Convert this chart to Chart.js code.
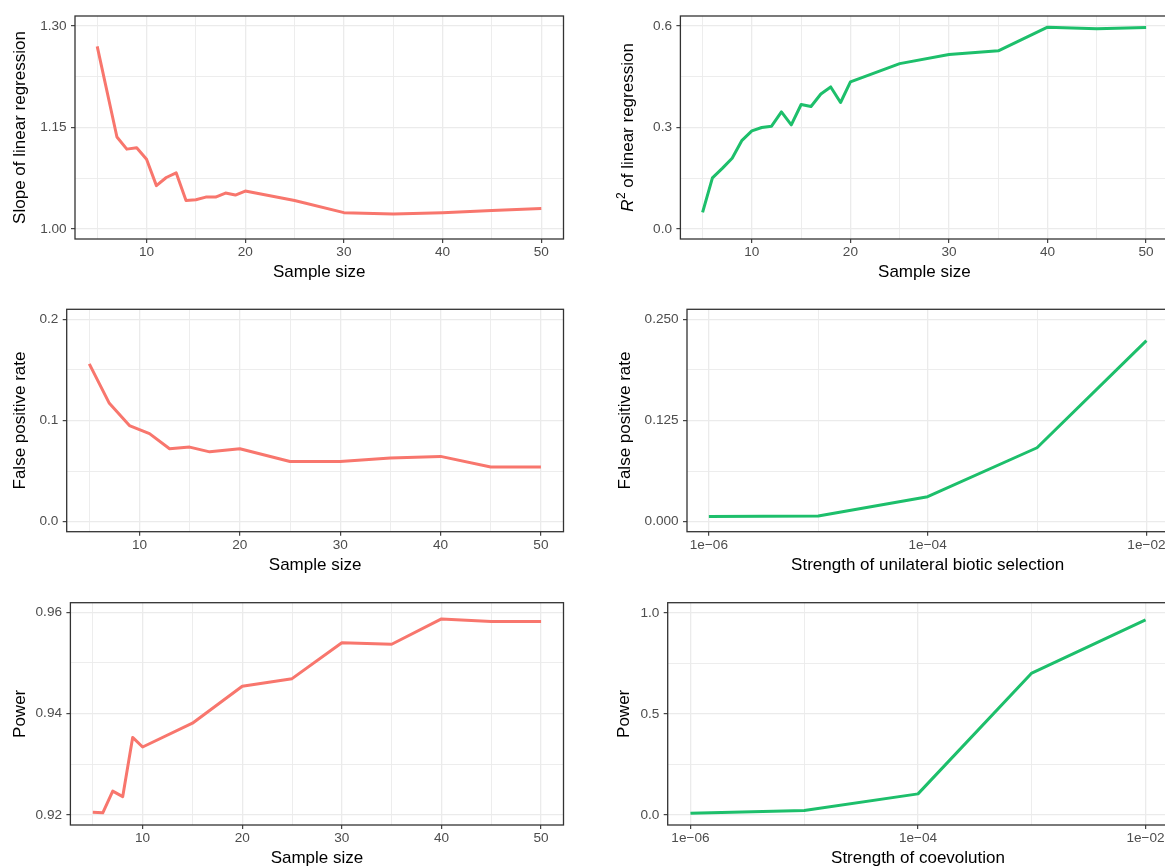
<!DOCTYPE html>
<html>
<head>
<meta charset="utf-8">
<script src="https://cdn.jsdelivr.net/npm/chart.js@4.4.0/dist/chart.umd.min.js"></script>
<style>
  html, body { margin: 0; padding: 0; background: #fff; }
  body { width: 1165px; height: 867px; overflow: hidden; position: relative; }
  canvas { position: absolute; }
</style>
</head>
<body>
<canvas id="slope"></canvas>
<canvas id="r2"></canvas>
<canvas id="fprN"></canvas>
<canvas id="fprSel"></canvas>
<canvas id="powN"></canvas>
<canvas id="powCoev"></canvas>
<script>
// --- data ---
const slopeN = [5, 7, 8, 9, 10, 11, 12, 13, 14, 15, 16, 17, 18, 19, 20, 25, 30, 35, 40, 45, 50];
const slopeVals = [1.270, 1.136, 1.118, 1.120, 1.103, 1.064, 1.076, 1.083, 1.042, 1.043, 1.047, 1.047, 1.053, 1.050, 1.056, 1.042, 1.024, 1.022, 1.024, 1.027, 1.030];

const r2N = [5, 6, 7, 8, 9, 10, 11, 12, 13, 14, 15, 16, 17, 18, 19, 20, 25, 30, 35, 40, 45, 50];
const r2Vals = [0.049, 0.151, 0.179, 0.209, 0.262, 0.290, 0.300, 0.304, 0.346, 0.308, 0.368, 0.362, 0.399, 0.420, 0.374, 0.435, 0.489, 0.516, 0.527, 0.597, 0.592, 0.596];

const fprN = [5, 7, 9, 11, 13, 15, 17, 20, 25, 30, 35, 40, 45, 50];
const fprVals = [0.156, 0.117, 0.095, 0.087, 0.072, 0.0737, 0.069, 0.072, 0.0595, 0.0595, 0.0628, 0.0645, 0.054, 0.054];

const powN = [5, 6, 7, 8, 9, 10, 15, 20, 25, 30, 35, 40, 45, 50];
const powVals = [0.9205, 0.9204, 0.9247, 0.9236, 0.9353, 0.9334, 0.9381, 0.9454, 0.9469, 0.9540, 0.9537, 0.9587, 0.9582, 0.9582];

const strength = [1e-6, 1e-5, 1e-4, 1e-3, 1e-2];
const fprSelVals = [0.0062, 0.007, 0.0308, 0.0913, 0.2237];
const powCoevVals = [0.008, 0.0214, 0.104, 0.702, 0.965];

// --- axis breaks and labels ---
const sizeTicks = [10, 20, 30, 40, 50];
const sizeLabels = ['10', '20', '30', '40', '50'];
const strengthTicks = [1e-6, 1e-4, 1e-2];
const strengthLabels = ['1e\u221206', '1e\u221204', '1e\u221202'];
const slopeTicks = [1.00, 1.15, 1.30];
const slopeLabels = ['1.00', '1.15', '1.30'];
const r2Ticks = [0, 0.3, 0.6];
const r2Labels = ['0.0', '0.3', '0.6'];
const fprTicks = [0, 0.1, 0.2];
const fprLabels = ['0.0', '0.1', '0.2'];
const fprSelTicks = [0, 0.125, 0.25];
const fprSelLabels = ['0.000', '0.125', '0.250'];
const powTicks = [0.92, 0.94, 0.96];
const powLabels = ['0.92', '0.94', '0.96'];
const powCoevTicks = [0, 0.5, 1];
const powCoevLabels = ['0.0', '0.5', '1.0'];

const RED = '#F8766D';
const GREEN = '#1DBF6B';
const FONT = "'Liberation Sans', Arial, sans-serif";

// where each panel sits on the page
const layout = {
  slope:   { x: 0,   y: 0,   w: 580, h: 293, yw: 75,    xh: 54,   top: 16,   right: 16.5, yTitle: 20.4 },
  r2:      { x: 580, y: 0,   w: 600, h: 293, yw: 100.4, xh: 54,   top: 16,   right: 11.7, yTitle: 48.5 },
  fprN:    { x: 0,   y: 293, w: 580, h: 293, yw: 66.7,  xh: 54.3, top: 16.3, right: 16.5, yTitle: 20.4 },
  fprSel:  { x: 580, y: 293, w: 600, h: 293, yw: 107,   xh: 54.3, top: 16.3, right: 11.7, yTitle: 45.5 },
  powN:    { x: 0,   y: 586, w: 580, h: 293, yw: 70.4,  xh: 54,   top: 16.7, right: 16.5, yTitle: 20.4 },
  powCoev: { x: 580, y: 586, w: 600, h: 293, yw: 87.7,  xh: 54,   top: 16.7, right: 11.7, yTitle: 44.8 }
};

function same(a, b) { return Math.abs(a - b) <= Math.abs(a) * 1e-6 + 1e-12; }

// major breaks plus ggplot-style minor breaks half way between
function breaks(majors, labels, min, max, log) {
  const f = log ? Math.log10 : (v => v);
  const g = log ? (v => Math.pow(10, v)) : (v => v);
  const m = majors.map(f);
  const step = m[1] - m[0];
  const minors = [m[0] - step / 2].concat(m.map(v => v + step / 2)).map(g)
    .filter(v => v > min && v < max);
  const values = majors.concat(minors).sort((a, b) => a - b);
  return {
    values,
    isMajor: v => majors.some(mj => same(mj, v)),
    label: v => { const i = majors.findIndex(mj => same(mj, v)); return i >= 0 ? labels[i] : ''; }
  };
}

function gridStyle(b) {
  return {
    color: '#EBEBEB',
    lineWidth: c => (c.tick && b.isMajor(c.tick.value)) ? 1.3 : 0.9,
    drawTicks: true,
    tickLength: 4,
    tickColor: c => (c.tick && b.isMajor(c.tick.value)) ? '#333333' : 'rgba(0,0,0,0)',
    tickWidth: c => (c.tick && b.isMajor(c.tick.value)) ? 1.1 : 0
  };
}

const panelBorder = {
  id: 'panelBorder',
  afterDatasetsDraw(chart) {
    const { ctx, chartArea: a } = chart;
    ctx.save();
    ctx.strokeStyle = '#333333';
    ctx.lineWidth = 1.3;
    ctx.strokeRect(a.left, a.top, a.right - a.left, a.bottom - a.top);
    ctx.restore();
  }
};

// y title with italic R and superscript 2
const r2TitleParts = ['R', '2', ' of linear regression'];
function r2Title(cx) {
  return {
    id: 'r2Title',
    afterDraw(chart) {
      const { ctx, chartArea } = chart;
      const cy = (chartArea.top + chartArea.bottom) / 2;
      const ital = 'italic 17px ' + FONT, small = '12px ' + FONT, big = '17px ' + FONT;
      ctx.save();
      ctx.translate(cx, cy);
      ctx.rotate(-Math.PI / 2);
      ctx.fillStyle = '#000';
      ctx.textBaseline = 'middle';
      ctx.textAlign = 'left';
      ctx.font = ital; const w0 = ctx.measureText(r2TitleParts[0]).width + 0.5;
      ctx.font = small; const w1 = ctx.measureText(r2TitleParts[1]).width;
      ctx.font = big; const w2 = ctx.measureText(r2TitleParts[2]).width;
      let x = -(w0 + w1 + w2) / 2;
      ctx.font = ital; ctx.fillText(r2TitleParts[0], x, 0); x += w0;
      ctx.font = small; ctx.fillText(r2TitleParts[1], x, -6.5); x += w1;
      ctx.font = big; ctx.fillText(r2TitleParts[2], x, 0);
      ctx.restore();
    }
  };
}

function panel(id, xs, ys, color, xAxis, yAxis, xTitle, yTitle) {
  const box = layout[id];
  const cv = document.getElementById(id);
  cv.width = box.w;
  cv.height = box.h;
  cv.style.left = box.x + 'px';
  cv.style.top = box.y + 'px';
  const log = xAxis.type === 'logarithmic';
  const xb = breaks(xAxis.ticks, xAxis.labels, xAxis.min, xAxis.max, log);
  const yb = breaks(yAxis.ticks, yAxis.labels, yAxis.min, yAxis.max, false);
  const extra = [panelBorder];
  if (yTitle === null) extra.push(r2Title(box.yTitle));

  new Chart(cv, {
    type: 'line',
    data: {
      datasets: [{
        data: xs.map((x, i) => ({ x: x, y: ys[i] })),
        borderColor: color,
        borderWidth: 3,
        borderJoinStyle: 'round',
        pointRadius: 0,
        fill: false,
        tension: 0
      }]
    },
    options: {
      animation: false,
      responsive: false,
      events: [],
      layout: { padding: { top: box.top, right: box.right, left: 0, bottom: 0 } },
      plugins: { legend: { display: false }, tooltip: { enabled: false } },
      scales: {
        x: {
          type: xAxis.type,
          min: xAxis.min,
          max: xAxis.max,
          border: { display: false },
          afterBuildTicks: s => { s.ticks = xb.values.map(v => ({ value: v })); },
          afterFit: s => { s.height = box.xh; },
          ticks: {
            autoSkip: false, maxRotation: 0, padding: 1,
            color: '#4D4D4D', font: { size: 13.6 },
            callback: v => xb.label(v)
          },
          grid: gridStyle(xb),
          title: { display: true, text: xTitle, color: '#000', font: { size: 17 }, padding: { top: 0, bottom: 10.3 } }
        },
        y: {
          type: 'linear',
          min: yAxis.min,
          max: yAxis.max,
          border: { display: false },
          afterBuildTicks: s => { s.ticks = yb.values.map(v => ({ value: v })); },
          afterFit: s => { s.width = box.yw; },
          ticks: {
            autoSkip: false, padding: 4.4,
            color: '#4D4D4D', font: { size: 13.6 },
            callback: v => yb.label(v)
          },
          grid: gridStyle(yb),
          title: {
            display: yTitle !== null, text: yTitle || '', color: '#000', font: { size: 17 },
            padding: { top: box.yTitle - 10.2, bottom: 0 }
          }
        }
      }
    },
    plugins: extra
  });
}

Chart.defaults.font.family = FONT;

const sizeAxis = { type: 'linear', min: 2.75, max: 52.25, ticks: sizeTicks, labels: sizeLabels };
const strengthAxis = { type: 'logarithmic', min: Math.pow(10, -6.2), max: Math.pow(10, -1.8), ticks: strengthTicks, labels: strengthLabels };

panel('slope', slopeN, slopeVals, RED, sizeAxis,
  { min: 0.985, max: 1.315, ticks: slopeTicks, labels: slopeLabels },
  'Sample size', 'Slope of linear regression');

panel('r2', r2N, r2Vals, GREEN, sizeAxis,
  { min: -0.03, max: 0.63, ticks: r2Ticks, labels: r2Labels },
  'Sample size', null);

panel('fprN', fprN, fprVals, RED, sizeAxis,
  { min: -0.01, max: 0.21, ticks: fprTicks, labels: fprLabels },
  'Sample size', 'False positive rate');

panel('fprSel', strength, fprSelVals, GREEN, strengthAxis,
  { min: -0.0125, max: 0.2625, ticks: fprSelTicks, labels: fprSelLabels },
  'Strength of unilateral biotic selection', 'False positive rate');

panel('powN', powN, powVals, RED, sizeAxis,
  { min: 0.918, max: 0.9619, ticks: powTicks, labels: powLabels },
  'Sample size', 'Power');

panel('powCoev', strength, powCoevVals, GREEN, strengthAxis,
  { min: -0.05, max: 1.05, ticks: powCoevTicks, labels: powCoevLabels },
  'Strength of coevolution', 'Power');
</script>
</body>
</html>
